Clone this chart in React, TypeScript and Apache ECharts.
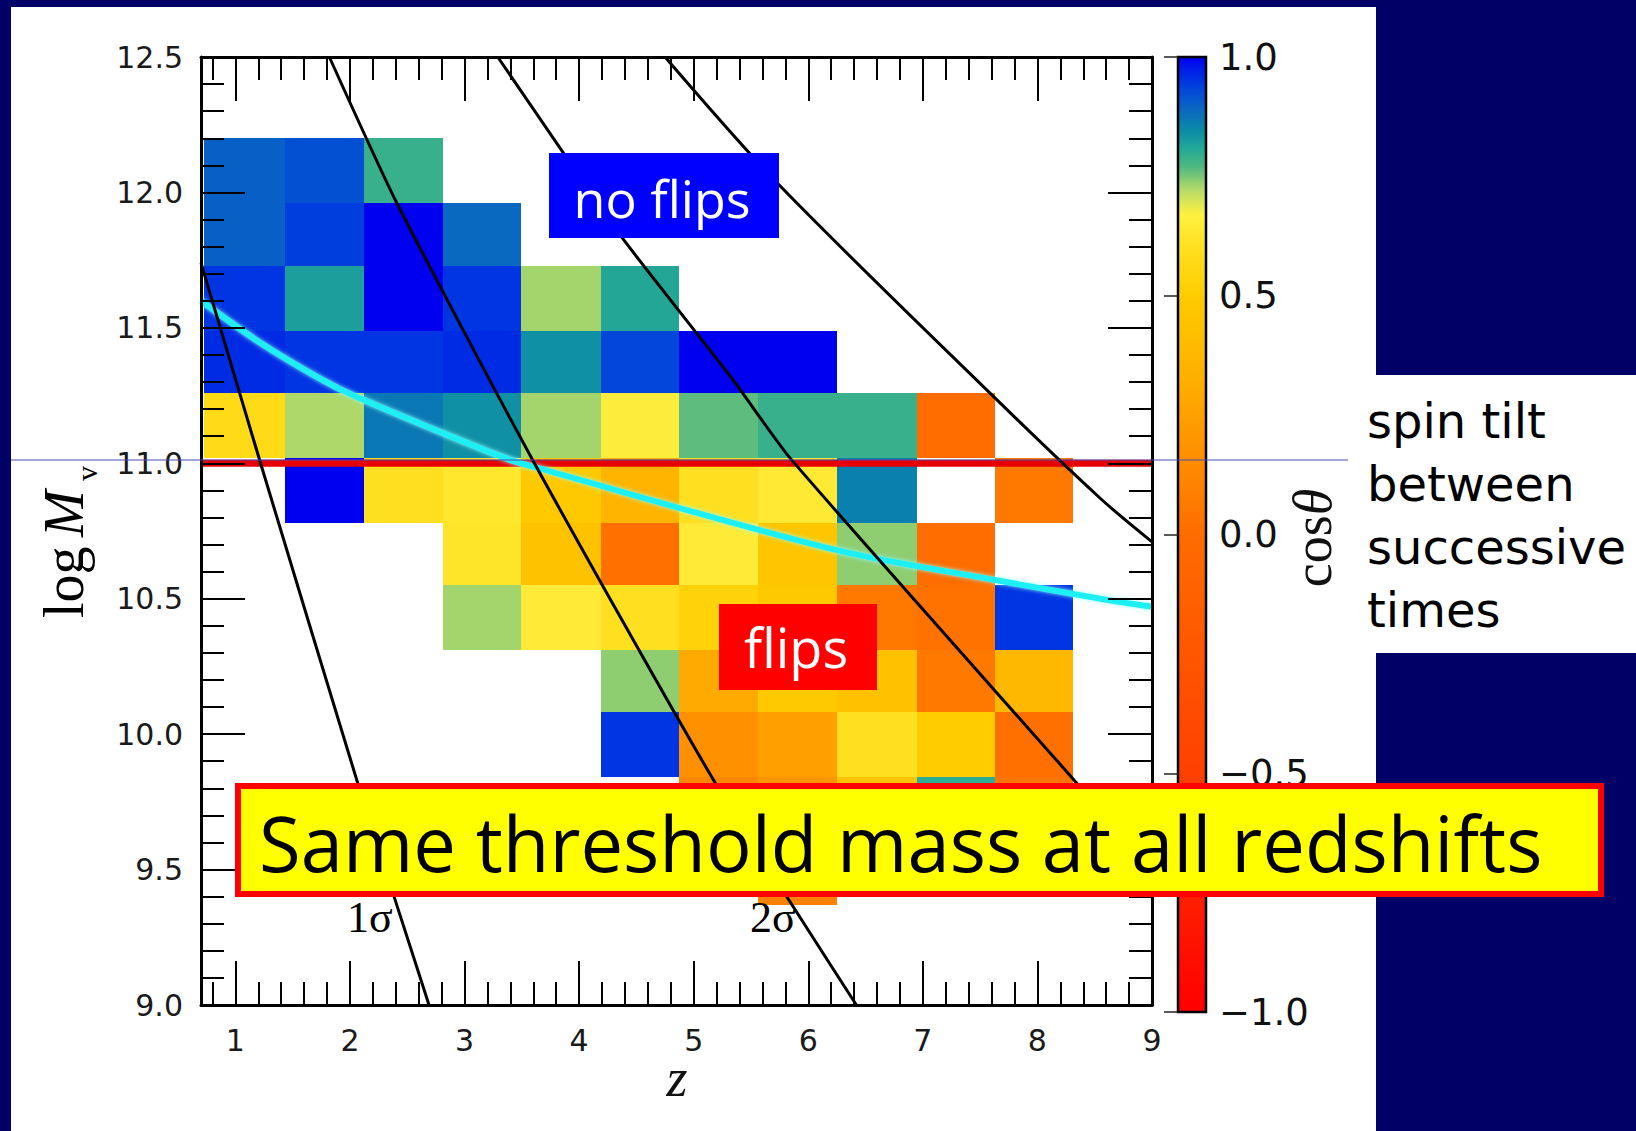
import React, { useEffect, useRef } from 'react';
import * as echarts from 'echarts';

// Redshift bin edges (z) of the cosθ map
const zBinEdges = [0.73, 1.43, 2.12, 2.81, 3.49, 4.19, 4.87, 5.56, 6.25, 6.95, 7.63, 8.31];
// Mass bin edges (log M_v), listed from the top row down
const massBinEdges = [12.2, 11.96, 11.73, 11.49, 11.26, 11.02, 10.78, 10.55, 10.31, 10.08, 9.84, 9.6, 9.37];

const N = null;
// Mean cosθ per cell; rows follow massBinEdges (top first), columns follow zBinEdges
const cosThetaGrid: (number | null)[][] = [
  [0.9, 0.92, 0.79, N, N, N, N, N, N, N, N],
  [0.9, 0.94, 1.0, 0.89, N, N, N, N, N, N, N],
  [0.95, 0.82, 1.0, 0.95, 0.73, 0.81, N, N, N, N, N],
  [0.96, 0.95, 0.95, 0.96, 0.84, 0.93, 1.0, 1.0, N, N, N],
  [0.57, 0.725, 0.87, 0.84, 0.73, 0.66, 0.765, 0.79, 0.79, 0.0, N],
  [N, 1.0, 0.6, 0.63, 0.48, 0.36, 0.6, 0.64, 0.86, N, 0.06],
  [N, N, N, 0.62, 0.44, 0.02, 0.65, 0.46, 0.74, 0.0, N],
  [N, N, N, 0.73, 0.65, 0.6, 0.53, 0.48, 0.06, 0.03, 0.95],
  [N, N, N, N, N, 0.74, 0.3, 0.48, 0.43, 0.06, 0.38],
  [N, N, N, N, N, 0.95, 0.17, 0.25, 0.6, 0.5, 0.02],
  [N, N, N, N, N, N, 0.12, 0.2, 0.45, 0.8, 0.04],
  [N, N, N, N, N, N, N, 0.1, N, N, N],
];

// Peak-height curves (z, log M_v)
const sigma1Curve = [[0.7, 11.74], [1.22, 11.0], [2.06, 9.83], [2.69, 9.0]];
const sigma2Curve = [[1.82, 12.5], [2.41, 11.96], [3.61, 11.0], [5.16, 9.84], [6.42, 9.0]];
const sigma3Curve = [[3.29, 12.5], [3.84, 12.16], [4.38, 11.83], [5.34, 11.31], [5.84, 11.02], [8.3, 9.84], [9.0, 9.5]];
const sigma4Curve = [[4.75, 12.5], [5.74, 12.03], [7.62, 11.245], [8.55, 10.87], [9.0, 10.71]];
// Transition mass curve
const transitionCurve = [[0.7, 11.6], [1.2, 11.45], [1.75, 11.31], [2.06, 11.245], [3.35, 11.02], [3.66, 10.98], [6.24, 10.68], [7.62, 10.57], [8.55, 10.5], [9.0, 10.47]];
// Constant threshold mass
const thresholdMass = 11.0;
const zRange = [0.7, 9];
const massRange = [9.0, 12.5];

const zTickValues = [1, 2, 3, 4, 5, 6, 7, 8, 9];
const zMinorTickValues: number[] = [];
for (let i = 0; i <= 8; i++) {
  for (let k = 1; k <= 4; k++) {
    const v = Math.round((i + 0.2 * k) * 10) / 10;
    if (v > zRange[0] && v < zRange[1]) zMinorTickValues.push(v);
  }
}

// Colour map for cosθ: red (-1) through orange and yellow to green, teal and blue (+1)
const colormapStops: [number, string][] = [
  [-1.0, '#ff0000'],
  [-0.5, '#ff4000'],
  [0.0, '#ff6c00'],
  [0.15, '#ff8c00'],
  [0.33, '#ffb000'],
  [0.5, '#ffcc00'],
  [0.6, '#ffe020'],
  [0.67, '#fff040'],
  [0.72, '#b8dc68'],
  [0.77, '#50b880'],
  [0.81, '#20a898'],
  [0.85, '#0a88a8'],
  [0.89, '#0a68c0'],
  [0.94, '#0040e0'],
  [1.0, '#0000f0'],
];

function hexToRgb(h: string) {
  const n = parseInt(h.slice(1), 16);
  return [(n >> 16) & 255, (n >> 8) & 255, n & 255];
}
function sampleColormap(v: number) {
  for (let i = 1; i < colormapStops.length; i++) {
    const [v1, c1] = colormapStops[i];
    const [v0, c0] = colormapStops[i - 1];
    if (v <= v1 + 1e-9) {
      const t = (v - v0) / (v1 - v0);
      const a = hexToRgb(c0);
      const b = hexToRgb(c1);
      const m = a.map((x, j) => Math.round(x + (b[j] - x) * t));
      return `rgb(${m[0]},${m[1]},${m[2]})`;
    }
  }
  return colormapStops[colormapStops.length - 1][1];
}
const colormapList = Array.from({ length: 81 }, (_, i) => sampleColormap(-1 + i * 0.025));

const SERIF = 'Liberation Serif';
const SANS = 'DejaVu Sans';
const HAND = 'Open Sans';

function buildOption() {
  const cellData: number[][] = [];
  cosThetaGrid.forEach((row, r) =>
    row.forEach((v, c) => {
      if (v !== null) cellData.push([zBinEdges[c], zBinEdges[c + 1], massBinEdges[r + 1], massBinEdges[r], v]);
    })
  );

  const frameLine = { show: true, onZero: false, lineStyle: { color: '#000', width: 3 } };
  const tickStyle = { color: '#000', width: 2 };

  const mainX = (position: string, values: number[], length: number, withLine: boolean, withLabels: boolean) => ({
    type: 'value',
    gridIndex: 0,
    position,
    min: zRange[0],
    max: zRange[1],
    z: 10,
    axisLine: withLine ? frameLine : { show: false },
    axisTick: { show: true, inside: true, length, customValues: values, lineStyle: tickStyle },
    axisLabel: withLabels
      ? { show: true, customValues: values, formatter: (v: number) => String(v), fontFamily: SANS, fontSize: 30, color: '#1a1a1a', margin: 20 }
      : { show: false },
    splitLine: { show: false },
  });

  const mainY = (position: string, withLabels: boolean) => ({
    type: 'value',
    gridIndex: 0,
    position,
    min: massRange[0],
    max: massRange[1],
    interval: 0.5,
    z: 10,
    axisLine: frameLine,
    axisTick: { show: true, inside: true, length: 44, lineStyle: tickStyle },
    minorTick: { show: true, splitNumber: 5, length: 23, lineStyle: tickStyle },
    axisLabel: withLabels
      ? { show: true, formatter: (v: number) => v.toFixed(1), fontFamily: SANS, fontSize: 30, color: '#1a1a1a', margin: 18 }
      : { show: false },
    splitLine: { show: false },
    minorSplitLine: { show: false },
  });

  const curve = (data: number[][], smooth: number | boolean, color: string, width: number, z: number, extra: any = {}) => ({
    type: 'line',
    xAxisIndex: 0,
    yAxisIndex: 0,
    data,
    smooth,
    symbol: 'none',
    showSymbol: false,
    silent: true,
    z,
    lineStyle: { color, width, ...extra },
  });

  return {
    animation: false,
    backgroundColor: 'transparent',
    grid: [
      { left: 201, top: 57, width: 951, height: 948, containLabel: false, outerBoundsMode: 'none' },
      { left: 1178, top: 57, width: 28, height: 955, containLabel: false, outerBoundsMode: 'none' },
    ],
    xAxis: [
      mainX('bottom', zTickValues, 44, true, true),
      mainX('bottom', zMinorTickValues, 23, false, false),
      mainX('top', zTickValues, 44, true, false),
      mainX('top', zMinorTickValues, 23, false, false),
      { type: 'value', gridIndex: 1, min: 0, max: 1, show: false },
    ],
    yAxis: [
      mainY('left', true),
      mainY('right', false),
      {
        type: 'value',
        gridIndex: 1,
        position: 'right',
        min: -1,
        max: 1,
        interval: 0.5,
        z: 10,
        axisLine: { show: false },
        axisTick: { show: true, inside: true, length: 14, lineStyle: { color: '#222', width: 1.5 } },
        axisLabel: {
          show: true,
          formatter: (v: number) => (v < 0 ? '\u2212' : '') + Math.abs(v).toFixed(1),
          fontFamily: SANS,
          fontSize: 37,
          color: '#111',
          margin: 13,
        },
        splitLine: { show: false },
      },
    ],
    visualMap: [
      {
        type: 'continuous',
        show: false,
        min: -1,
        max: 1,
        dimension: 4,
        seriesIndex: 0,
        inRange: { color: colormapList },
      },
    ],
    series: [
      {
        type: 'custom',
        xAxisIndex: 0,
        yAxisIndex: 0,
        silent: true,
        z: 2,
        encode: { x: [0, 1], y: [2, 3] },
        data: cellData,
        renderItem: (_params: any, api: any) => {
          const a = api.coord([api.value(0), api.value(3)]);
          const b = api.coord([api.value(1), api.value(2)]);
          const x0 = Math.round(a[0]);
          const y0 = Math.round(a[1]);
          const x1 = Math.round(b[0]);
          const y1 = Math.round(b[1]);
          return {
            type: 'rect',
            shape: { x: x0, y: y0, width: x1 - x0, height: y1 - y0 },
            style: { fill: api.visual('color') },
          };
        },
      },
      {
        type: 'custom',
        xAxisIndex: 4,
        yAxisIndex: 2,
        silent: true,
        z: 2,
        data: [[0.5, 0]],
        renderItem: (_params: any, api: any) => {
          const a = api.coord([0, 1]);
          const b = api.coord([1, -1]);
          return {
            type: 'rect',
            shape: { x: a[0], y: a[1], width: b[0] - a[0], height: b[1] - a[1] },
            style: {
              fill: {
                type: 'linear',
                x: 0,
                y: 1,
                x2: 0,
                y2: 0,
                colorStops: colormapStops.map(([v, c]) => ({ offset: (v + 1) / 2, color: c })),
              },
              stroke: '#000',
              lineWidth: 2.5,
            },
          };
        },
      },
      curve([[zRange[0], thresholdMass], [zRange[1], thresholdMass]], false, '#e60000', 7, 3),
      curve(transitionCurve, 0.3, '#1ff0f4', 6, 4, { shadowColor: 'rgba(140,255,255,0.9)', shadowBlur: 4 }),
      curve(sigma1Curve, 0.15, '#000', 3, 5),
      curve(sigma2Curve, 0.2, '#000', 3, 5),
      curve(sigma3Curve, 0.2, '#000', 3, 5),
      curve(sigma4Curve, 0.3, '#000', 3, 5),
    ],
    graphic: {
      elements: [
        // thin guide across the page at the threshold mass
        { type: 'line', z: 50, silent: true, shape: { x1: 11, y1: 460, x2: 1348, y2: 460 }, style: { stroke: '#4a4aae', lineWidth: 1 } },
        // y-axis name
        {
          type: 'group',
          x: 64,
          y: 537,
          rotation: Math.PI / 2,
          z: 20,
          children: [
            { type: 'text', x: -81, y: 0, style: { text: 'log', fill: '#000', fontFamily: SERIF, fontSize: 56, align: 'left', verticalAlign: 'middle' } },
            { type: 'text', x: 0, y: 0, style: { text: 'M', fill: '#000', fontFamily: SERIF, fontStyle: 'italic', fontSize: 56, align: 'left', verticalAlign: 'middle' } },
            { type: 'text', x: 56, y: 22, style: { text: 'v', fill: '#000', fontFamily: SERIF, fontSize: 30, align: 'left', verticalAlign: 'middle' } },
          ],
        },
        // x-axis name
        { type: 'text', x: 677, y: 1078, z: 20, style: { text: 'z', fill: '#111', fontFamily: SERIF, fontStyle: 'italic', fontSize: 54, align: 'center', verticalAlign: 'middle' } },
        // colour bar name
        {
          type: 'text',
          x: 1313,
          y: 538,
          rotation: Math.PI / 2,
          z: 20,
          style: {
            text: '{a|cos}{b|θ}',
            align: 'center',
            verticalAlign: 'middle',
            rich: {
              a: { fontFamily: SERIF, fontSize: 54, fill: '#111' },
              b: { fontFamily: SERIF, fontSize: 54, fontStyle: 'italic', fill: '#111' },
            },
          },
        },
        // curve labels
        { type: 'text', x: 347, y: 917, z: 20, style: { text: '1σ', fill: '#000', fontFamily: SERIF, fontSize: 44, align: 'left', verticalAlign: 'middle' } },
        { type: 'text', x: 750, y: 917, z: 20, style: { text: '2σ', fill: '#000', fontFamily: SERIF, fontSize: 44, align: 'left', verticalAlign: 'middle' } },
        // annotation boxes
        { type: 'rect', z: 100, shape: { x: 549, y: 153, width: 230, height: 85 }, style: { fill: '#0000ff' } },
        { type: 'text', z: 101, x: 662, y: 197, style: { text: 'no flips', fill: '#fff', fontFamily: HAND, fontSize: 52, align: 'center', verticalAlign: 'middle' } },
        { type: 'rect', z: 100, shape: { x: 719, y: 604, width: 158, height: 86 }, style: { fill: '#ff0000' } },
        { type: 'text', z: 101, x: 796, y: 647, style: { text: 'flips', fill: '#fff', fontFamily: HAND, fontSize: 54, align: 'center', verticalAlign: 'middle' } },
        { type: 'rect', z: 100, shape: { x: 238, y: 786, width: 1363, height: 108 }, style: { fill: '#ffff00', stroke: '#ff0000', lineWidth: 6 } },
        { type: 'text', z: 101, x: 259, y: 842, style: { text: 'Same threshold mass at all redshifts', fill: '#000', fontFamily: HAND, fontSize: 76, align: 'left', verticalAlign: 'middle' } },
        // side caption
        {
          type: 'text',
          z: 101,
          x: 1367,
          y: 515,
          style: {
            text: 'spin tilt\nbetween\nsuccessive\ntimes',
            fill: '#000',
            fontFamily: SANS,
            fontSize: 48,
            lineHeight: 63,
            align: 'left',
            verticalAlign: 'middle',
          },
        },
      ],
    },
  };
}

export default function App() {
  const ref = useRef<HTMLDivElement>(null);
  useEffect(() => {
    if (!ref.current) return;
    const chart = echarts.init(ref.current, null, { renderer: 'svg', width: 1636, height: 1131 });
    chart.setOption(buildOption() as any);
    return () => chart.dispose();
  }, []);
  return (
    <div style={{ position: 'fixed', left: 0, top: 0, width: 1636, height: 1131, background: '#000066', overflow: 'hidden' }}>
      <div style={{ position: 'absolute', left: 11, top: 7, width: 1365, height: 1124, background: '#ffffff' }} />
      <div style={{ position: 'absolute', left: 1360, top: 375, width: 276, height: 278, background: '#ffffff' }} />
      <div ref={ref} style={{ position: 'absolute', left: 0, top: 0, width: 1636, height: 1131 }} />
    </div>
  );
}
